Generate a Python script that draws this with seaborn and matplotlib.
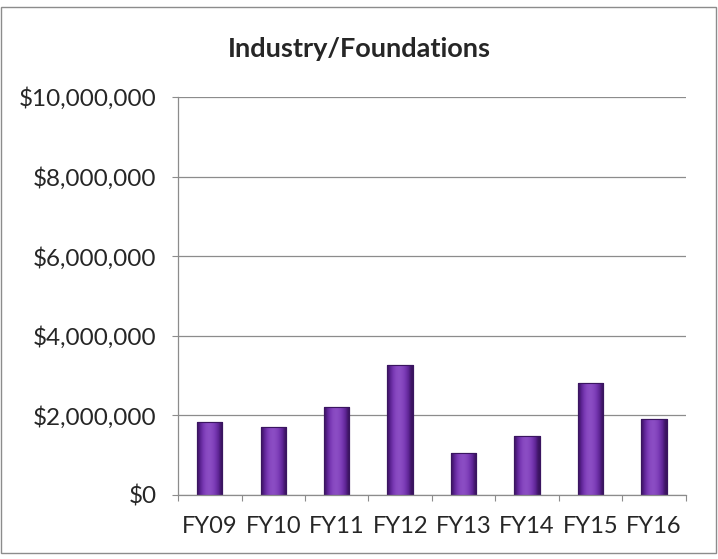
import numpy as np
import pandas as pd
import matplotlib.pyplot as plt
import seaborn as sns
from matplotlib.ticker import FuncFormatter
from matplotlib.patches import Rectangle
from matplotlib.colors import LinearSegmentedColormap

years = ['FY09', 'FY10', 'FY11', 'FY12', 'FY13', 'FY14', 'FY15', 'FY16']
funding = [1830000, 1710000, 2210000, 3270000, 1060000, 1480000, 2810000, 1910000]
y_ticks = [0, 2000000, 4000000, 6000000, 8000000, 10000000]

df = pd.DataFrame({'year': years, 'funding': funding})

sns.set_style('white')
plt.rcParams['font.family'] = ['Lato', 'DejaVu Sans']

fig = plt.figure(figsize=(7.18, 5.59), dpi=100)
ax = fig.add_axes([0.248, 0.1145, 0.707, 0.712])

sns.barplot(data=df, x='year', y='funding', color='#6a2c9e', width=0.4,
            edgecolor='#3a1560', linewidth=0.8, ax=ax)

# bevel-like shading on each bar
bevel = LinearSegmentedColormap.from_list('bevel', ['#2a0c45', '#5a2290', '#7a3ab5', '#9558cc'])
grad = np.array([[0.15, 0.6, 0.85, 0.9, 0.75, 0.5, 0.1]])
for p in list(ax.patches):
    x0, y0 = p.get_x(), p.get_y()
    w, h = p.get_width(), p.get_height()
    im = ax.imshow(grad, cmap=bevel, vmin=0, vmax=1, aspect='auto',
                   extent=(x0, x0 + w, y0, y0 + h), zorder=p.get_zorder() + 0.1,
                   interpolation='bicubic')
    im.set_clip_path(p)
    ax.add_patch(Rectangle((x0, y0), w, h, fill=False, edgecolor='#3a1560',
                           linewidth=0.8, zorder=p.get_zorder() + 0.2))

ax.set_xlim(-0.5, len(years) - 0.5)
ax.set_ylim(0, 10000000)
ax.set_yticks(y_ticks)
ax.yaxis.set_major_formatter(FuncFormatter(lambda v, _: f'${v:,.0f}'))
ax.yaxis.grid(True, color='#8c8c8c', linewidth=0.9)
ax.set_axisbelow(True)
ax.set_xlabel('')
ax.set_ylabel('')

ax.set_xticks(np.arange(-0.5, len(years), 1.0), minor=False)
ax.set_xticklabels([])
ax.set_xticks(np.arange(len(years)), minor=True)
ax.set_xticklabels(years, minor=True, fontsize=17)
ax.tick_params(axis='x', which='major', direction='out', length=4.5, color='#8c8c8c', bottom=True)
ax.tick_params(axis='x', which='minor', length=0, pad=15)
ax.tick_params(axis='y', direction='out', length=4.5, color='#8c8c8c', left=True, labelsize=17.5, pad=11)

for s in ['top', 'right']:
    ax.spines[s].set_visible(False)
for s in ['left', 'bottom']:
    ax.spines[s].set_color('#8c8c8c')
    ax.spines[s].set_linewidth(0.9)

fig.text(0.5, 0.913, 'Industry/Foundations', ha='center', va='center',
         fontsize=19.5, fontweight='bold')
fig.add_artist(Rectangle((0.002, 0.01), 0.995, 0.977, transform=fig.transFigure,
                         fill=False, edgecolor='#8c8c8c', linewidth=1))

fig.savefig('out.png', dpi=100)
